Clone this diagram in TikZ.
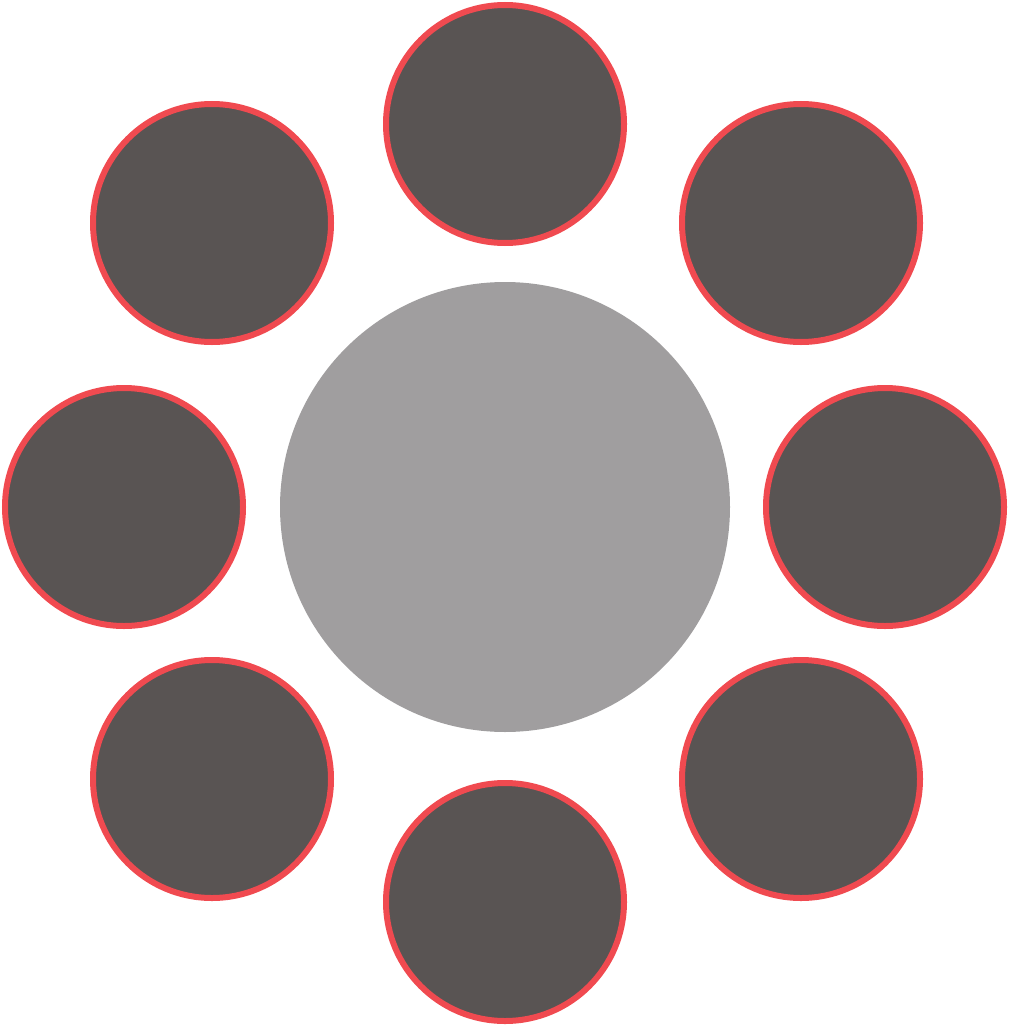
\documentclass[tikz,border=0pt]{standalone}
\usetikzlibrary{calc}
\definecolor{seatgray}{HTML}{595453}
\definecolor{seatred}{HTML}{F04A50}
\definecolor{tablegray}{HTML}{A09E9F}

\begin{document}
\begin{tikzpicture}[x=1pt,y=-1pt]
    \tikzstyle{seat}=[circle,draw=seatred,fill=seatgray,line width=6pt,
        inner sep=0pt,minimum size=238pt]
    \tikzstyle{tbl}=[circle,fill=tablegray,inner sep=0pt,minimum size=450pt]
    \useasboundingbox (0,0) rectangle (1011,1030);
    % Table
    \node[tbl] (table) at (505,507) {};
    % Seats
    \node[seat] (top) at (505,124) {};
    \node[seat] (topright) at (801,223) {};
    \node[seat] (right) at (885,507) {};
    \node[seat] (bottomright) at (801,779) {};
    \node[seat] (bottom) at (505,902) {};
    \node[seat] (bottomleft) at (212,779) {};
    \node[seat] (left) at (124,507) {};
    \node[seat] (topleft) at (212,223) {};
\end{tikzpicture}
\end{document}
